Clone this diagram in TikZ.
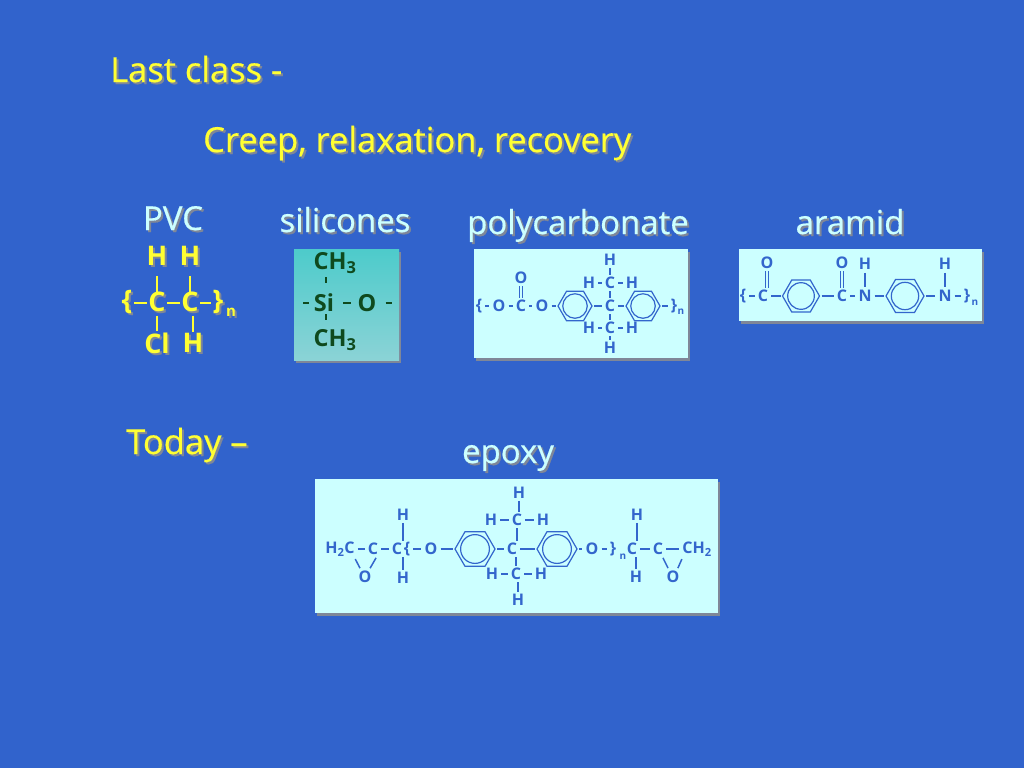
\documentclass[tikz,border=0pt]{standalone}
\usepackage{fontspec}
\setmainfont{Open Sans}
\newfontfamily\slidefont{Open Sans}[FakeBold=0.5]
\usetikzlibrary{positioning,shapes.geometric,shadows}
\definecolor{slidebg}{HTML}{3163CC}
\definecolor{slideyellow}{HTML}{FFFF33}
\definecolor{slidepale}{HTML}{CCFFFF}
\definecolor{slidedrop}{HTML}{7F8798}
\definecolor{chemblue}{HTML}{3366CC}
\definecolor{chemgreen}{HTML}{0F4A1E}
\definecolor{sitop}{HTML}{4DCBCB}
\definecolor{sibottom}{HTML}{8BD3D6}
\newcommand\dropped[2]{\leavevmode\rlap{\kern2pt\raisebox{-2pt}{\textcolor{slidedrop}{#2}}}\textcolor{#1}{#2}}
\tikzset{
  headline/.style={font=\slidefont\fontsize{34.5}{40}\selectfont,inner sep=0pt,anchor=base west},
  caption/.style={font=\slidefont\fontsize{33}{38}\selectfont,inner sep=0pt,anchor=base},
  panel/.style={fill=slidepale,inner sep=0pt,drop shadow={shadow xshift=2pt,shadow yshift=-3pt,fill=slidedrop,opacity=1}},
  atom/.style={font=\bfseries\fontsize{16}{18}\selectfont,text=chemblue,inner sep=1pt},
  subatom/.style={font=\bfseries\fontsize{10}{12}\selectfont,text=chemblue,inner sep=0pt},
  pvcatom/.style={font=\bfseries\fontsize{27}{30}\selectfont,inner sep=0pt},
  pvcsub/.style={font=\bfseries\fontsize{15}{18}\selectfont,inner sep=0pt},
  siatom/.style={font=\bfseries\fontsize{23.5}{26}\selectfont,text=chemgreen,inner sep=1pt},
  bond/.style={draw=chemblue,line width=1.5pt,shorten >=2pt,shorten <=2pt},
  upbond/.style={bond,shorten >=1pt,shorten <=1pt},
  dbond/.style={draw=chemblue,line width=1pt,double=slidepale,double distance=1.6pt,shorten >=1pt,shorten <=1pt},
  pvcbond/.style={draw=slideyellow,line width=2.4pt,shorten >=1.5pt,shorten <=1.5pt},
  sibond/.style={draw=chemgreen,line width=2.2pt},
  benzene/.style={regular polygon,regular polygon sides=6,draw=chemblue,line width=1.2pt,inner sep=0pt,outer sep=0pt,minimum size=2*#1,
    path picture={\draw[chemblue,line width=1.2pt] (path picture bounding box.center) circle[radius=0.72*#1];}}
}
\begin{document}
\begin{tikzpicture}[x=1pt,y=-1pt,on grid]
  \fill[slidebg] (0,0) rectangle (1024,768);

  % headings
  \node[headline] (lastclass) at (110,82) {\dropped{slideyellow}{Last class -}};
  \node[headline] (creep) at (203,152) {\dropped{slideyellow}{Creep, relaxation, recovery}};
  \node[headline] (today) at (126,454) {\dropped{slideyellow}{Today –}};
  \node[caption] (pvc) at (173,230) {\dropped{slidepale}{PVC}};
  \node[caption] (silicones) at (345,232) {\dropped{slidepale}{silicones}};
  \node[caption] (polycarb) at (578,234) {\dropped{slidepale}{polycarbonate}};
  \node[caption] (aramid) at (850,234) {\dropped{slidepale}{aramid}};
  \node[caption] (epoxy) at (508,463) {\dropped{slidepale}{epoxy}};

  % panels
  \node[panel,top color=sitop,bottom color=sibottom,fill=none,minimum width=105pt,minimum height=111pt] (sipanel) at (346.5,304.5) {};
  \node[panel,minimum width=214pt,minimum height=109pt] (pcpanel) at (581,303.5) {};
  \node[panel,minimum width=243pt,minimum height=72pt] (arpanel) at (860.5,285) {};
  \node[panel,minimum width=403pt,minimum height=134pt] (eppanel) at (516.5,546) {};

  % PVC
  \node[pvcatom] (pvcc1) at (157,303) {\dropped{slideyellow}{C}};
  \node[pvcatom,right=33pt of pvcc1] (pvcc2) {\dropped{slideyellow}{C}};
  \node[pvcatom,left=30pt of pvcc1] (pvcbl) {\dropped{slideyellow}{\{}};
  \node[pvcatom,right=28pt of pvcc2] (pvcbr) {\dropped{slideyellow}{\}}};
  \node[pvcsub,below right=10pt and 13pt of pvcbr] (pvcn) {\dropped{slideyellow}{n}};
  \node[pvcatom,above=46pt of pvcc1] (pvch1) {\dropped{slideyellow}{H}};
  \node[pvcatom,above=46pt of pvcc2] (pvch2) {\dropped{slideyellow}{H}};
  \node[pvcatom,below=41pt of pvcc1] (pvccl) {\dropped{slideyellow}{Cl}};
  \node[pvcatom,below=41pt of pvcc2,xshift=3pt] (pvch3) {\dropped{slideyellow}{H}};
  \foreach \a/\b in {pvcbl/pvcc1,pvcc1/pvcc2,pvcc2/pvcbr}
    \draw[pvcbond] (\a) -- (\b);
  \foreach \a/\b in {pvch1/pvcc1,pvch2/pvcc2}
    \draw[pvcbond,shorten <=8pt,shorten >=-3pt] (\a.south) -- (\a.south |- \b.north);
  \foreach \a/\b in {pvcc1/pvccl,pvcc2/pvch3}
    \draw[pvcbond] (\a.south -| \b.north) -- (\b.north);

  % silicones
  \node[siatom] (sisi) at (324,303) {Si};
  \node[siatom,above=40pt of sisi,xshift=11pt] (sime1) {CH\textsubscript{3}};
  \node[siatom,below=37pt of sisi,xshift=11pt] (sime2) {CH\textsubscript{3}};
  \node[siatom,right=43pt of sisi] (sio) {O};
  \coordinate[left=21pt of sisi] (sifl);
  \coordinate[right=25pt of sio] (sifr);
  \coordinate[above=26pt of sisi,xshift=2pt] (sia1);
  \coordinate[above=20pt of sisi,xshift=2pt] (sia2);
  \coordinate[below=11pt of sisi,xshift=2pt] (sib1);
  \coordinate[below=17pt of sisi,xshift=2pt] (sib2);
  \draw[sibond,shorten >=4pt] (sifl) -- (sisi);
  \draw[sibond,shorten >=5pt,shorten <=8pt] (sisi) -- (sio);
  \draw[sibond,shorten <=8pt] (sio) -- (sifr);
  \draw[sibond] (sia1) -- (sia2);
  \draw[sibond] (sib1) -- (sib2);

  % polycarbonate
  \node[atom] (pcc1) at (521,306) {C};
  \node[atom,left=22pt of pcc1] (pco1) {O};
  \node[atom,left=20pt of pco1] (pcbl) {\{};
  \node[atom,right=21pt of pcc1] (pco2) {O};
  \node[atom,above=28pt of pcc1] (pco3) {O};
  \node[benzene=17pt,right=33pt of pco2] (pcring1) {};
  \node[atom,right=35pt of pcring1] (pcc2) {C};
  \node[benzene=17pt,right=33pt of pcc2] (pcring2) {};
  \node[atom,right=31pt of pcring2] (pcbr) {\}};
  \node[subatom,below right=6pt and 7pt of pcbr] (pcn) {n};
  \node[atom,above=23pt of pcc2] (pcc3) {C};
  \node[atom,left=21pt of pcc3] (pch1) {H};
  \node[atom,right=22pt of pcc3] (pch2) {H};
  \node[atom,above=23pt of pcc3] (pch3) {H};
  \node[atom,below=22pt of pcc2] (pcc4) {C};
  \node[atom,left=21pt of pcc4] (pch4) {H};
  \node[atom,right=22pt of pcc4] (pch5) {H};
  \node[atom,below=20pt of pcc4] (pch6) {H};
  \foreach \a/\b in {pcbl/pco1,pco1/pcc1,pcc1/pco2,pco2/pcring1,pcring1/pcc2,pcc2/pcring2,pcring2/pcbr,pch1/pcc3,pcc3/pch2,pch4/pcc4,pcc4/pch5}
    \draw[bond] (\a) -- (\b);
  \foreach \a/\b in {pch3/pcc3,pcc3/pcc2,pcc2/pcc4,pcc4/pch6}
    \draw[upbond] (\a.south) -- (\a.south |- \b.north);
  \draw[dbond] (pco3) -- (pcc1);

  % aramid
  \node[atom] (arc1) at (763,296) {C};
  \node[atom,left=20pt of arc1] (arbl) {\{};
  \node[atom,above=33pt of arc1,xshift=4pt] (aro1) {O};
  \node[benzene=18.5pt,right=38pt of arc1] (arring1) {};
  \node[atom,right=41pt of arring1] (arc2) {C};
  \node[atom,above=33pt of arc2] (aro2) {O};
  \node[atom,right=23pt of arc2] (arn1) {N};
  \node[atom,above=32pt of arn1] (arh1) {H};
  \node[benzene=19pt,right=40pt of arn1] (arring2) {};
  \node[atom,right=40pt of arring2] (arn2) {N};
  \node[atom,above=32pt of arn2] (arh2) {H};
  \node[atom,right=22pt of arn2] (arbr) {\}};
  \node[subatom,below right=7pt and 8pt of arbr] (arn) {n};
  \foreach \a/\b in {arbl/arc1,arc1/arring1,arring1/arc2,arc2/arn1,arn1/arring2,arring2/arn2,arn2/arbr,arh1/arn1,arh2/arn2}
    \draw[bond] (\a) -- (\b);
  \draw[dbond] (aro1.south) -- (aro1.south |- arc1.north);
  \draw[dbond] (aro2) -- (arc2);

  % epoxy
  \node[atom] (eph2c) at (340,549) {H\textsubscript{2}C};
  \node[atom,right=33pt of eph2c] (epc1) {C};
  \node[atom,right=24pt of epc1] (epc2) {C};
  \node[atom,above=34pt of epc2,xshift=6pt] (eph1) {H};
  \node[atom,below=29pt of epc2,xshift=6pt] (eph2) {H};
  \node[atom,below=28pt of epc1,xshift=-8pt] (epo1) {O};
  \node[atom,right=10pt of epc2] (epbl) {\{};
  \node[atom,right=24pt of epbl] (epo2) {O};
  \node[benzene=20pt,right=44pt of epo2] (epring1) {};
  \node[atom,right=37pt of epring1] (epc3) {C};
  \node[atom,above=29pt of epc3,xshift=5pt] (epc4) {C};
  \node[atom,left=26pt of epc4] (eph3) {H};
  \node[atom,right=26pt of epc4] (eph4) {H};
  \node[atom,above=27pt of epc4,xshift=2pt] (eph5) {H};
  \node[atom,below=25pt of epc3,xshift=4pt] (epc5) {C};
  \node[atom,left=24pt of epc5] (eph6) {H};
  \node[atom,right=25pt of epc5] (eph7) {H};
  \node[atom,below=26pt of epc5,xshift=2pt] (eph8) {H};
  \node[benzene=20pt,right=45pt of epc3] (epring2) {};
  \node[atom,right=35pt of epring2] (epo3) {O};
  \node[atom,right=21pt of epo3] (epbr) {\}};
  \node[subatom,below right=8pt and 10pt of epbr] (epn) {n};
  \node[atom,right=19pt of epbr] (epc6) {C};
  \node[atom,above=34pt of epc6,xshift=5pt] (eph9) {H};
  \node[atom,below=28pt of epc6,xshift=4pt] (eph10) {H};
  \node[atom,right=26pt of epc6] (epc7) {C};
  \node[atom,right=39pt of epc7] (epch2) {CH\textsubscript{2}};
  \node[atom,below=28pt of epc7,xshift=15pt] (epo4) {O};
  \foreach \a/\b in {eph2c/epc1,epc1/epc2,epbl/epo2,epo2/epring1,epring1/epc3,epc3/epring2,epring2/epo3,epo3/epbr,epc6/epc7,epc7/epch2,eph3/epc4,epc4/eph4,eph6/epc5,epc5/eph7}
    \draw[bond] (\a) -- (\b);
  \foreach \a/\b in {eph1/epc2,eph5/epc4,epc4/epc3,eph9/epc6}
    \draw[upbond] (\a.south) -- (\a.south |- \b.north);
  \foreach \a/\b in {epc2/eph2,epc3/epc5,epc5/eph8,epc6/eph10}
    \draw[upbond] (\a.south -| \b.north) -- (\b.north);
  \draw[bond] (eph2c.-30) -- (epo1.120);
  \draw[bond] (epc1.-60) -- (epo1.60);
  \draw[bond] (epc7.-60) -- (epo4.120);
  \draw[bond] (epch2.-150) -- (epo4.60);
\end{tikzpicture}
\end{document}
